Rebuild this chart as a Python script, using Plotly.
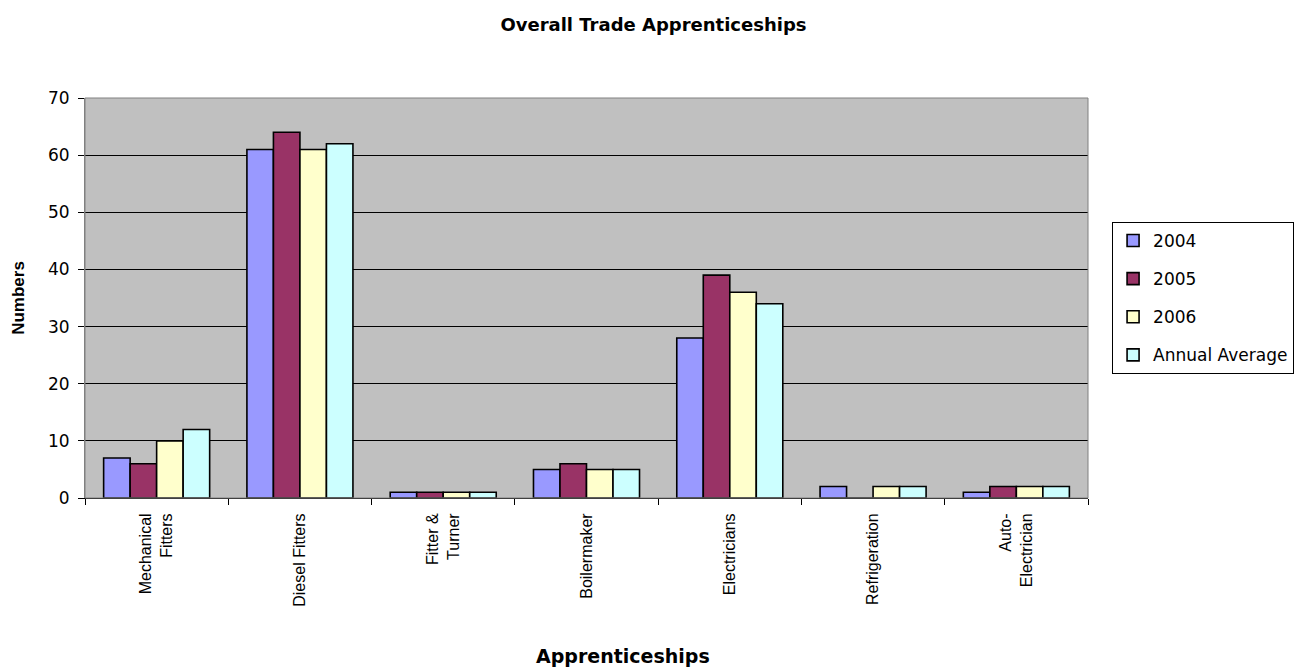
import plotly.graph_objects as go

categories = ["Mechanical<br>Fitters", "Diesel Fitters", "Fitter &<br>Turner", "Boilermaker",
              "Electricians", "Refrigeration", "Auto-<br>Electrician"]
series_names = ["2004", "2005", "2006", "Annual Average"]
values_2004 = [7, 61, 1, 5, 28, 2, 1]
values_2005 = [6, 64, 1, 6, 39, 0, 2]
values_2006 = [10, 61, 1, 5, 36, 2, 2]
values_avg = [12, 62, 1, 5, 34, 2, 2]
colors = ["#9999FF", "#993366", "#FFFFCC", "#CCFFFF"]
y_ticks = [0, 10, 20, 30, 40, 50, 60, 70]

fig = go.Figure()
for name, vals, col in zip(series_names, [values_2004, values_2005, values_2006, values_avg], colors):
    fig.add_trace(go.Bar(
        x=categories, y=vals, name=name, legendgroup=name,
        marker=dict(color=col, line=dict(color="#000000", width=1.6)),
    ))

arial = "Liberation Sans, Arial, sans-serif"
wide = "DejaVu Sans, Verdana, sans-serif"
fig.update_layout(
    width=1307, height=672,
    margin=dict(l=85, r=219, t=98, b=174),
    paper_bgcolor="#FFFFFF",
    plot_bgcolor="#C0C0C0",
    barmode="group",
    bargap=0.26,
    bargroupgap=0,
    font=dict(family=wide, size=16, color="#000000"),
    title=dict(text="<b>Overall Trade Apprenticeships</b>", x=0.5, xanchor="center",
               xref="container", y=0.963, yanchor="middle",
               font=dict(size=18, family=wide)),
    legend=dict(
        x=1.024, xanchor="left", y=0.5, yanchor="middle",
        bgcolor="#FFFFFF", bordercolor="#000000", borderwidth=1,
        font=dict(size=17, family=wide),
        tracegroupgap=13,
    ),
    xaxis=dict(
        type="category",
        tickangle=-90,
        tickson="boundaries",
        ticks="outside", ticklen=6, tickcolor="#000000",
        ticklabelstandoff=8,
        showline=True, linecolor="#000000", linewidth=1,
        showgrid=False,
        tickfont=dict(size=16, family=arial),
    ),
    yaxis=dict(
        range=[0, 70],
        tickvals=y_ticks,
        ticks="outside", ticklen=6, tickcolor="#000000",
        ticklabelstandoff=5,
        showline=True, linecolor="#808080", linewidth=1,
        showgrid=True, gridcolor="#000000", gridwidth=1,
        zeroline=False,
        tickfont=dict(size=17, family=wide),
        title=dict(text="<b>Numbers</b>", font=dict(size=17, family=arial), standoff=19),
    ),
    annotations=[dict(
        text="<b>Apprenticeships</b>", xref="paper", yref="paper",
        x=0.536, y=-0.428, xanchor="center", yanchor="bottom", showarrow=False,
        font=dict(size=19, family=wide),
    )],
)

# grey border around the plotting area
fig.add_shape(type="rect", xref="paper", yref="paper", x0=0, y0=0, x1=1, y1=1,
              line=dict(color="#808080", width=1), fillcolor="rgba(0,0,0,0)", layer="above")

fig.write_html("out.html")
